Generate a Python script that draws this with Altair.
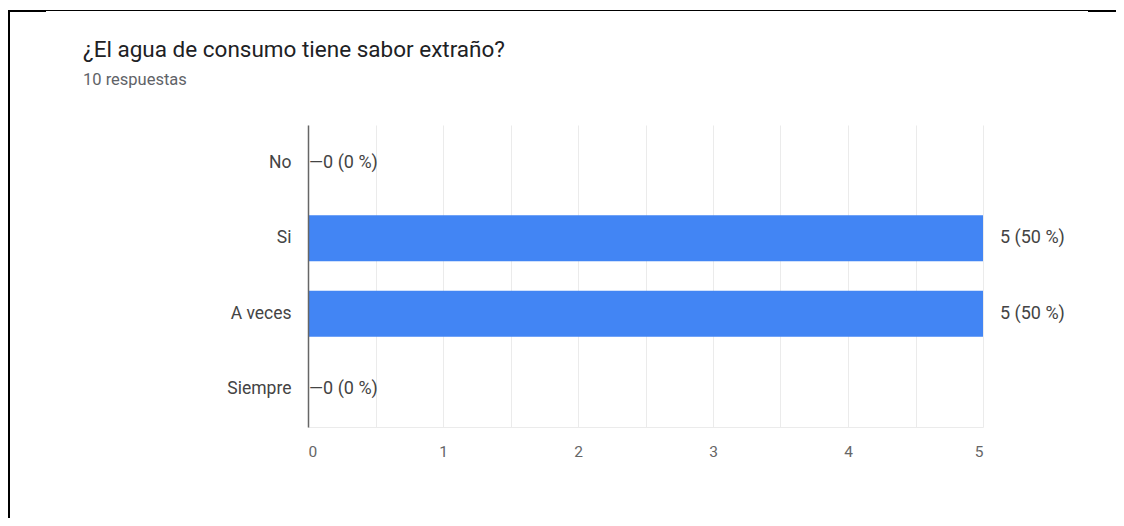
import altair as alt
import pandas as pd

categories = ["No", "Si", "A veces", "Siempre"]
counts = [0, 5, 5, 0]
labels = ["—0 (0 %)", "5 (50 %)", "5 (50 %)", "—0 (0 %)"]
x_ticks = [0, 0.5, 1, 1.5, 2, 2.5, 3, 3.5, 4, 4.5, 5]
title_text = "¿El agua de consumo tiene sabor extraño?"
subtitle_text = "10 respuestas"

df = pd.DataFrame({"cat": categories, "n": counts, "label": labels})

W, H = 675, 302
PL, PT = 300, 117
PR = 1108 - PL - W
PB = 510 - PT - H
FONT = "Roboto"

x_scale = alt.Scale(domain=[0, 5], nice=False, zero=True)
y_scale = alt.Scale(paddingInner=0.39, paddingOuter=0.195)

x_axis = alt.Axis(title=None, values=x_ticks,
                  labelExpr="datum.value % 1 == 0 ? format(datum.value, 'd') : ''",
                  grid=True, gridColor="#ebebeb", ticks=False,
                  domainColor="#ebebeb", labelPadding=17,
                  labelFont=FONT, labelFontSize=15.5, labelColor="#666666",
                  zindex=0)
y_axis = alt.Axis(title=None, labelFont=FONT, labelFontSize=17.5,
                  labelColor="#444444", labelPadding=17, ticks=False,
                  domainColor="#666666", domainWidth=1.5, grid=False, zindex=1)

base = alt.Chart(df)
y_enc = alt.Y("cat:N", sort=categories, scale=y_scale, axis=y_axis)

bars = base.mark_bar(color="#4285f4").encode(
    x=alt.X("n:Q", scale=x_scale, axis=x_axis),
    y=y_enc,
)

zero_txt = base.transform_filter("datum.n == 0").mark_text(
    align="left", dx=1, font=FONT, fontSize=18, color="#444444"
).encode(x=alt.X("n:Q", scale=x_scale), y=alt.Y("cat:N", sort=categories), text="label:N")

pos_txt = base.transform_filter("datum.n > 0").mark_text(
    align="left", dx=17, font=FONT, fontSize=18, color="#444444"
).encode(x=alt.X("n:Q", scale=x_scale), y=alt.Y("cat:N", sort=categories), text="label:N")

one = alt.Chart(pd.DataFrame({"t": [title_text], "s": [subtitle_text]}))
title_mark = one.mark_text(align="left", baseline="alphabetic", font=FONT,
                           fontSize=22.5, color="#202124").encode(
    x=alt.value(-225), y=alt.value(-68), text="t:N")
subtitle_mark = one.mark_text(align="left", baseline="alphabetic", font=FONT,
                              fontSize=16.5, color="#5f6368").encode(
    x=alt.value(-225), y=alt.value(-40), text="s:N")

frame_top = one.mark_rule(color="black", strokeWidth=1).encode(
    x=alt.value(-262), x2=alt.value(780), y=alt.value(-114.5))
frame_top_l = one.mark_rule(color="black", strokeWidth=2).encode(
    x=alt.value(-300), x2=alt.value(-262), y=alt.value(-114))
frame_top_r = one.mark_rule(color="black", strokeWidth=2).encode(
    x=alt.value(780), x2=alt.value(820), y=alt.value(-114))
frame_left = one.mark_rule(color="black", strokeWidth=2).encode(
    x=alt.value(-299), y=alt.value(-115), y2=alt.value(401))

chart = alt.layer(bars, zero_txt, pos_txt, title_mark, subtitle_mark,
                  frame_top, frame_top_l, frame_top_r, frame_left).properties(
    width=W, height=H,
    padding={"left": PL, "top": PT, "right": PR, "bottom": PB},
    autosize=alt.AutoSizeParams(type="none"),
    background="white",
).configure_view(strokeWidth=0)

chart.save("out.html", embed_options={"renderer": "svg", "actions": False})
